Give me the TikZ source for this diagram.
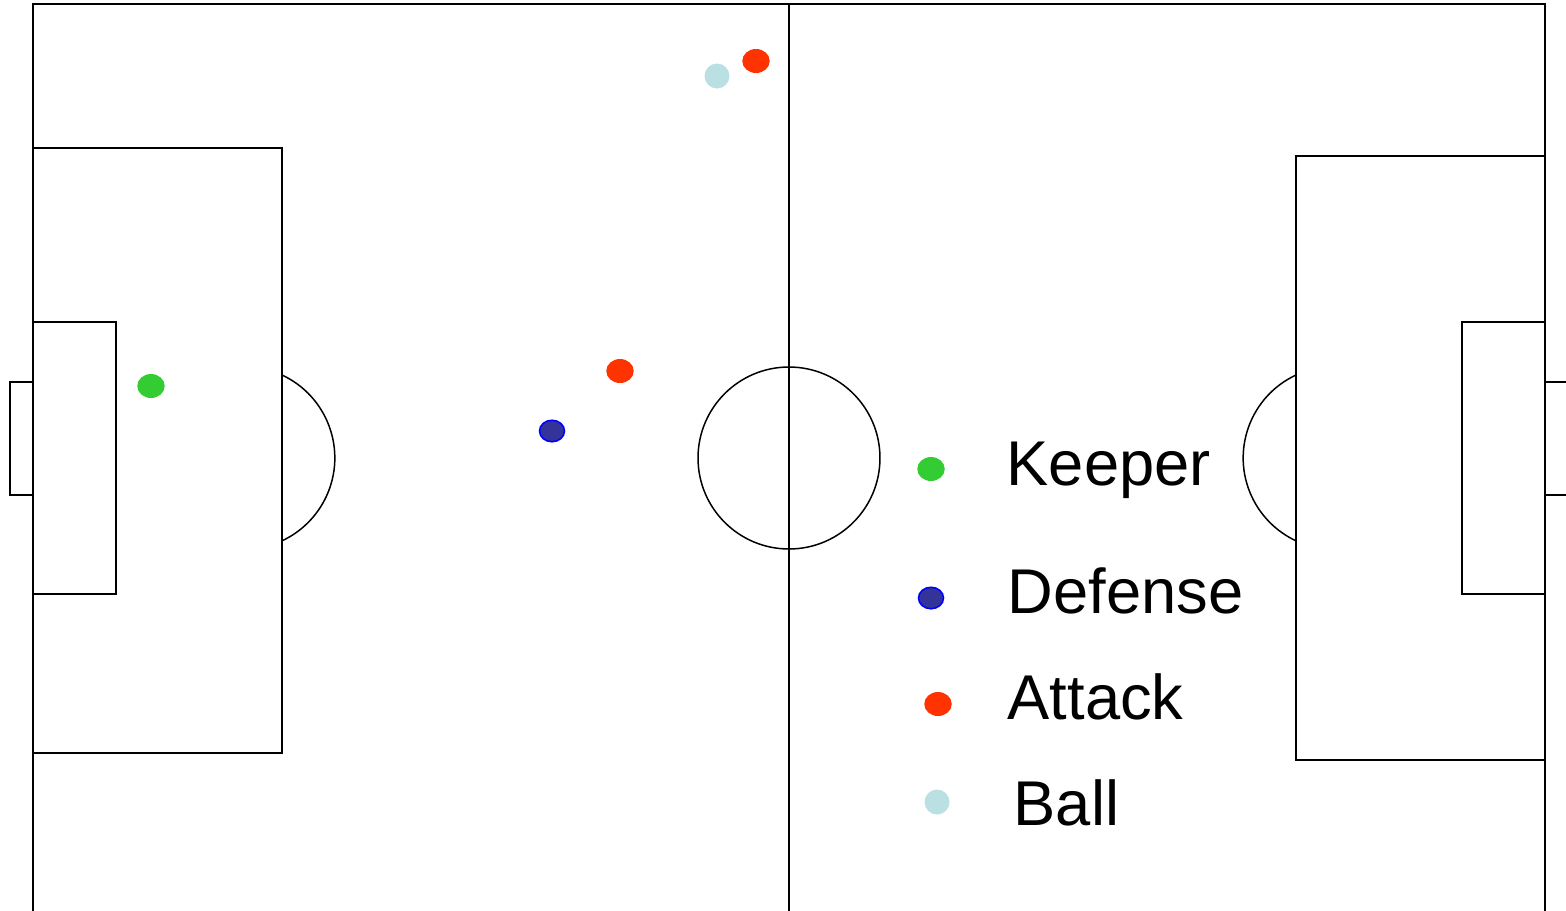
\documentclass[tikz,border=0pt]{standalone}
\usepackage{fontspec}
\setmainfont{Liberation Sans}
\usepackage{xcolor}
\usepackage{tikz}
\usetikzlibrary{shapes.geometric}

\definecolor{keepergreen}{HTML}{33CC33}
\definecolor{attackred}{HTML}{FF3300}
\definecolor{balllight}{HTML}{BBE0E3}
\definecolor{defensenavy}{HTML}{333399}

\tikzset{
  player/.style={ellipse,inner sep=0pt,minimum width=0.55cm,minimum height=0.48cm},
  keeper/.style={player,fill=keepergreen},
  attack/.style={player,fill=attackred},
  defense/.style={player,fill=defensenavy,draw=blue,line width=0.9pt,minimum width=0.5cm,minimum height=0.43cm},
  ball/.style={player,fill=balllight,minimum width=0.5cm,minimum height=0.5cm},
  legendtext/.style={anchor=base west,inner sep=0pt,font=\fontsize{36}{40}\selectfont}
}

\begin{document}
\begin{tikzpicture}[x=0.02cm,y=-0.02cm,line width=0.85pt]
  \useasboundingbox (0,0) rectangle (1566,910);
  \clip (0,0) rectangle (1566,910);
  % pitch outline and halfway line
  \draw (33,915) -- (33,4) -- (1545,4) -- (1545,915);
  \draw (789,4) -- (789,915);
  \draw (789,458) circle[radius=1.82cm];
  % left end
  \draw (33,148) rectangle (282,753);
  \draw (33,322) rectangle (116,594);
  \draw (33,382) -- (10,382) -- (10,495) -- (33,495);
  \draw (282,375) arc[start angle=65,end angle=-65,radius=1.83cm];
  % right end
  \draw (1545,156) rectangle (1296,760);
  \draw (1545,322) rectangle (1462,594);
  \draw (1545,382) -- (1570,382);
  \draw (1545,495) -- (1570,495);
  \draw (1296,375) arc[start angle=115,end angle=245,radius=1.83cm];

  % players and ball
  \node[keeper] (gk) at (151,386) {};
  \node[defense] (def) at (552,431) {};
  \node[attack] (att1) at (620,371) {};
  \node[attack] (att2) at (756,61) {};
  \node[ball] (b) at (717,76) {};

  % legend
  \node[keeper] (keydot) at (931,469) {};
  \node[defense] (defdot) at (931,598) {};
  \node[attack] (attdot) at (938,704) {};
  \node[ball] (balldot) at (937,802) {};
  \node[legendtext] (keylabel) at (1006,485) {Keeper};
  \node[legendtext] (deflabel) at (1007,613) {Defense};
  \node[legendtext] (attlabel) at (1007,719) {Attack};
  \node[legendtext] (balllabel) at (1013,825) {Ball};
\end{tikzpicture}
\end{document}
